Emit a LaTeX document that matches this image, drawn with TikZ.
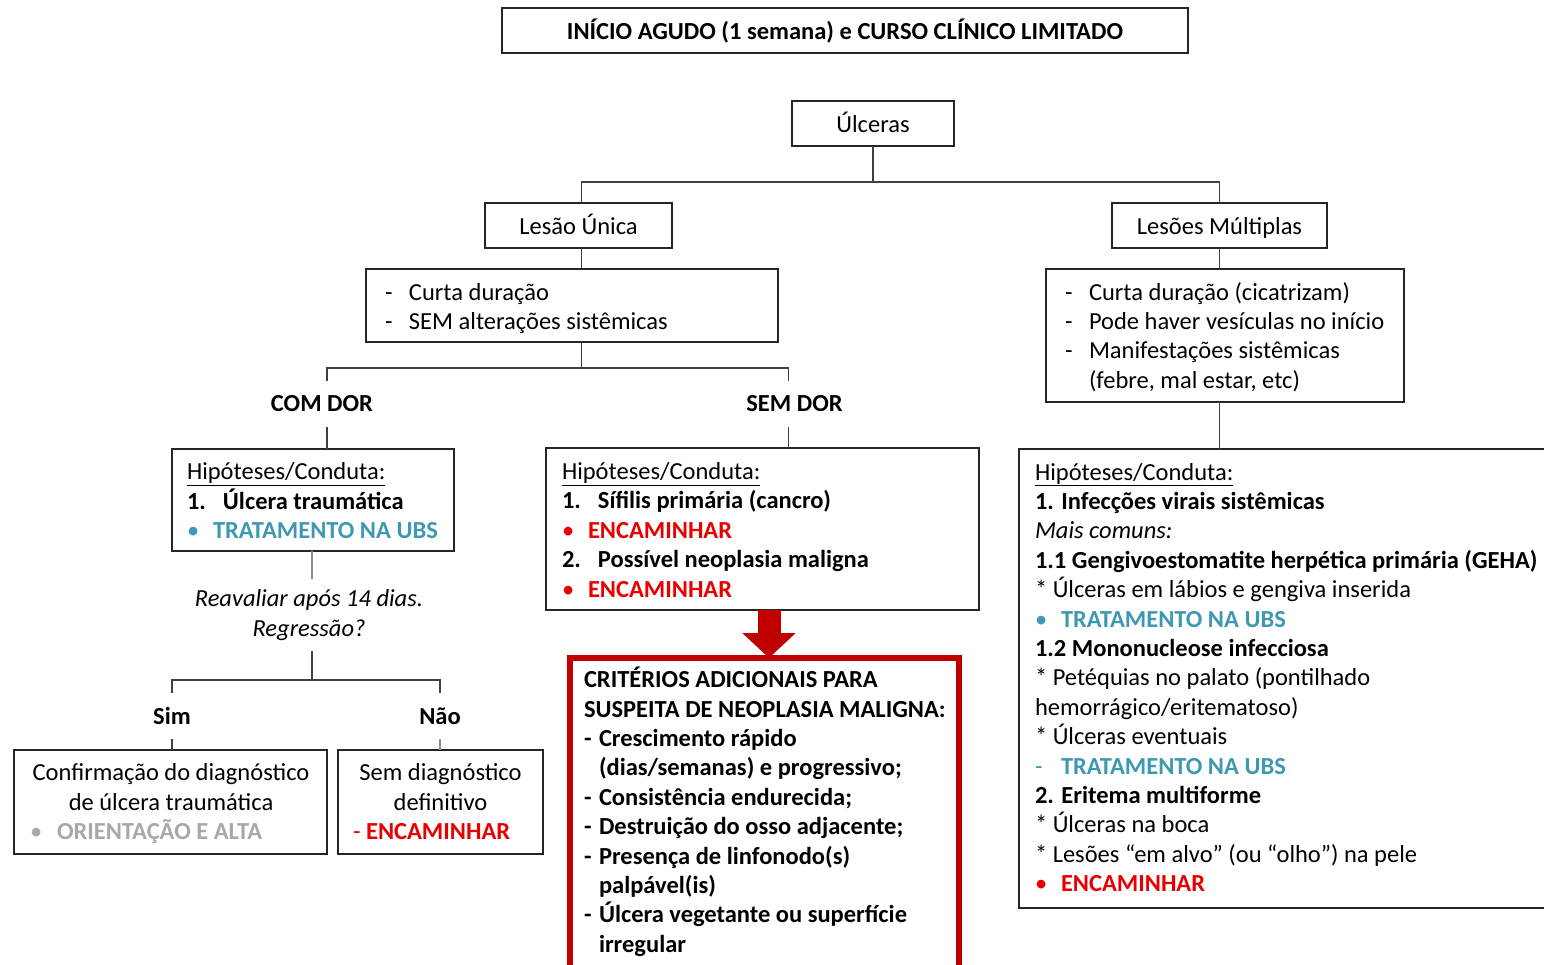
\documentclass[tikz,border=0pt]{standalone}
\usepackage{fontspec}
\setmainfont{Carlito}
\usetikzlibrary{arrows.meta,calc}
\definecolor{tealx}{RGB}{62,152,178}
\definecolor{redx}{RGB}{232,0,0}
\definecolor{darkredx}{RGB}{192,0,0}
\definecolor{grayx}{RGB}{168,168,168}
\definecolor{linex}{RGB}{64,64,64}
\newcommand\fs{\fontsize{24.5pt}{29.4pt}\selectfont}
\begin{document}
\begin{tikzpicture}[x=1pt,y=-1pt,
  box/.style={draw=black!85, line width=1.2pt, inner sep=0pt, outer sep=0pt, font=\fs, text height=20pt, text depth=2pt},
  txt/.style={inner sep=0pt, outer sep=0pt, anchor=base west, align=left, font=\fs},
  ctxt/.style={inner sep=0pt, outer sep=0pt, anchor=base, align=center, font=\fs},
  conn/.style={draw=linex, line width=1.2pt},
  lbl/.style={font=\fs\bfseries, inner sep=0pt, outer sep=0pt, minimum height=46pt},
  bigarrow/.style={draw=darkredx, line width=23pt, -{Triangle[length=25pt,width=52pt]}}]
\useasboundingbox (0,0) rectangle (1544,965);

% boxes
\node[box, minimum width=686pt, minimum height=45pt, font=\fs\bfseries] (title) at (845,30.5) {INÍCIO AGUDO (1 semana) e CURSO CLÍNICO LIMITADO};
\node[box, minimum width=162pt, minimum height=45pt] (ulc) at (873,123.5) {Úlceras};
\node[box, minimum width=187pt, minimum height=45pt] (uni) at (578.5,225.5) {Lesão Única};
\node[box, minimum width=215pt, minimum height=45pt] (mul) at (1219.5,225.5) {Lesões Múltiplas};
\node[box, minimum width=412pt, minimum height=73pt] (cdur) at (572,305.5) {};
\node[box, minimum width=358pt, minimum height=133pt] (mdet) at (1225,335.5) {};
\node[box, minimum width=282pt, minimum height=102pt] (hypL) at (313,500) {};
\node[box, minimum width=433pt, minimum height=162pt] (hypS) at (762.5,529) {};
\node[box, minimum width=541pt, minimum height=459pt] (hypM) at (1289.5,678.5) {};
\node[box, minimum width=313pt, minimum height=104pt] (sim) at (170.5,802) {};
\node[box, minimum width=205pt, minimum height=104pt] (nao) at (440.5,802) {};
\node[box, draw=darkredx, line width=6pt, minimum width=389pt, minimum height=332pt] (redbox) at (764.5,824) {};

% labels
\node[lbl] (comlbl) at (322,404) {COM DOR};
\node[lbl] (semlbl) at (794.5,404) {SEM DOR};
\node[lbl] (simlbl) at (172,716) {Sim};
\node[lbl] (naolbl) at (440,716) {Não};
\node[ctxt, font=\fs\itshape, inner ysep=11pt] (reav) at (309,636) {Reavaliar após 14 dias.\\Regressão?};

% texts (anchor base = baseline of the last line)
\node[txt] (tcd) at (385,329.4) {\makebox[24pt][l]{-}Curta duração\\\makebox[24pt][l]{-}SEM alterações sistêmicas};
\node[txt] (tmd) at (1065,388.2) {\makebox[24pt][l]{-}Curta duração (cicatrizam)\\\makebox[24pt][l]{-}Pode haver vesículas no início\\\makebox[24pt][l]{-}Manifestações sistêmicas\\\makebox[24pt][l]{}(febre, mal estar, etc)};
\node[txt] (thL) at (187,538.6) {\underline{Hipóteses/Conduta:}\\\textbf{\makebox[36pt][l]{1.}Úlcera traumática}\\{\color{tealx}\makebox[26pt][l]{•}\textbf{TRATAMENTO NA UBS}}};
\node[txt] (thS) at (562,597) {\underline{Hipóteses/Conduta:}\\\textbf{\makebox[36pt][l]{1.}Sífilis primária (cancro)}\\{\color{redx}\makebox[26pt][l]{•}\textbf{ENCAMINHAR}}\\\textbf{\makebox[36pt][l]{2.}Possível neoplasia maligna}\\{\color{redx}\makebox[26pt][l]{•}\textbf{ENCAMINHAR}}};
\node[txt, font=\fs\bfseries] (tred) at (584,952.2) {CRITÉRIOS ADICIONAIS PARA\\SUSPEITA DE NEOPLASIA MALIGNA:\\\makebox[15pt][l]{-}Crescimento rápido\\\makebox[15pt][l]{}(dias/semanas) e progressivo;\\\makebox[15pt][l]{-}Consistência endurecida;\\\makebox[15pt][l]{-}Destruição do osso adjacente;\\\makebox[15pt][l]{-}Presença de linfonodo(s)\\\makebox[15pt][l]{}palpável(is)\\\makebox[15pt][l]{-}Úlcera vegetante ou superfície\\\makebox[15pt][l]{}irregular};
\node[txt] (thM) at (1035,891.6) {\underline{Hipóteses/Conduta:}\\
\textbf{1. Infecções virais sistêmicas}\\
\textit{Mais comuns:}\\
\textbf{1.1 Gengivoestomatite herpética primária (GEHA)}\\
* Úlceras em lábios e gengiva inserida\\
{\color{tealx}\makebox[26pt][l]{•}\textbf{TRATAMENTO NA UBS}}\\
\textbf{1.2 Mononucleose infecciosa}\\
* Petéquias no palato (pontilhado\\
hemorrágico/eritematoso)\\
* Úlceras eventuais\\
{\color{tealx}\makebox[26pt][l]{-}\textbf{TRATAMENTO NA UBS}}\\
\textbf{2. Eritema multiforme}\\
* Úlceras na boca\\
* Lesões “em alvo” (ou “olho”) na pele\\
{\color{redx}\makebox[26pt][l]{•}\textbf{ENCAMINHAR}}};
\node[ctxt] (tsim) at (171,810) {Confirmação do diagnóstico\\de úlcera traumática};
\node[txt] (tsimb) at (30,839) {{\color{grayx}\makebox[27pt][l]{•}\textbf{ORIENTAÇÃO E ALTA}}};
\node[ctxt] (tnao) at (440.5,810) {Sem diagnóstico\\definitivo};
\node[txt] (tnaob) at (353,839) {{\color{redx}- \textbf{ENCAMINHAR}}};

% junction coordinates
\coordinate (yA) at (0,182);
\coordinate (yB) at (0,368);
\coordinate (yC) at (0,680);
\coordinate (xU) at (581.5,0);
\coordinate (xL) at (327,0);
\coordinate (xR) at (788.5,0);
\coordinate (xM) at (312,0);
\coordinate (ax) at (769,0);

% connectors
\draw[conn] (ulc.south) -- (ulc.south |- yA);
\draw[conn] (uni.north -| xU) -- (xU |- yA) -- (mul.north |- yA) -- (mul.north);
\draw[conn] (uni.south -| xU) -- (cdur.north -| xU);
\draw[conn] (cdur.south -| xU) -- (xU |- yB);
\draw[conn] (comlbl.north -| xL) -- (xL |- yB) -- (xR |- yB) -- (semlbl.north -| xR);
\draw[conn] (comlbl.south -| xL) -- (hypL.north -| xL);
\draw[conn] (semlbl.south -| xR) -- (hypS.north -| xR);
\draw[conn, draw=black!45] (hypL.south -| xM) -- (reav.north -| xM);
\draw[conn] (reav.south -| xM) -- (xM |- yC);
\draw[conn] (simlbl.north) -- (simlbl.north |- yC) -- (naolbl.north |- yC) -- (naolbl.north);
\draw[conn] (simlbl.south) -- (sim.north -| simlbl.south);
\draw[conn, draw=black!45] (naolbl.south) -- (nao.north -| naolbl.south);
\draw[conn] (mul.south) -- (mdet.north -| mul.south);
\draw[conn] (mdet.south -| mul.south) -- (hypM.north -| mul.south);
\draw[bigarrow] (hypS.south -| ax) -- (redbox.north -| ax);
\end{tikzpicture}
\end{document}
